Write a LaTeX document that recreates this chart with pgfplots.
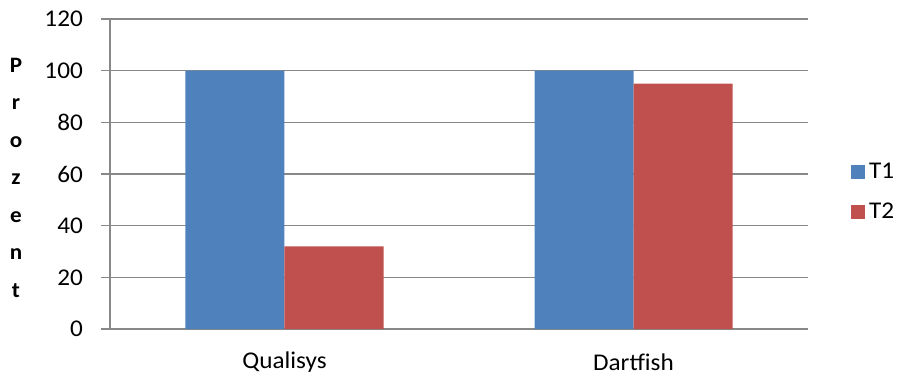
\documentclass[border=0pt]{standalone}
\usepackage{fontspec}
\setmainfont{Carlito}[FakeStretch=1.05]
\usepackage{pgfplots}
\pgfplotsset{compat=1.18}
\definecolor{tone}{HTML}{4F81BD}
\definecolor{ttwo}{HTML}{C0504D}
\definecolor{axgray}{HTML}{888888}
\begin{document}
\begin{tikzpicture}
\begin{axis}[
  name=ax,
  scale only axis,
  width=698pt, height=310pt,
  xmin=-0.5, xmax=1.5,
  ymin=0, ymax=120,
  ytick={0,20,...,120},
  xtick={0,1},
  xticklabels={Qualisys,Dartfish},
  minor xtick={-0.5,0.5,1.5},
  axis x line*=bottom,
  axis y line*=left,
  axis line style={axgray, line width=1.2pt},
  every tick/.style={axgray, line width=1.2pt},
  tick align=outside,
  major tick length=9pt,
  minor tick length=8pt,
  xtick style={draw=none},
  ymajorgrids,
  grid style={axgray, line width=1.2pt},
  /pgf/number format/assume math mode=true,
  tick label style={font=\fontsize{24}{28}\selectfont},
  yticklabel style={anchor=east, inner sep=0pt, xshift=-18pt},
  xticklabel style={anchor=center, inner sep=0pt, yshift=-24pt},
  ybar=0pt,
  bar width=99pt,
  legend style={at={(1,0.442)}, anchor=west, xshift=43pt, draw=none, fill=none,
    inner sep=0pt, row sep=19pt, font=\fontsize{24}{28}\selectfont,
    /tikz/every even column/.append style={column sep=0pt}},
  legend cell align=left,
  legend image code/.code={\fill[#1] (0pt,-7pt) rectangle (14pt,7pt);},
]
\addplot[fill=tone, draw=none] coordinates {(0,100) (1,100)};
\addlegendentry{\hspace{2pt}T1}
\addplot[fill=ttwo, draw=none] coordinates {(0,32) (1,95)};
\addlegendentry{\hspace{2pt}T2}
\end{axis}
\node[font=\bfseries\fontsize{22}{37.5}\selectfont, align=center, inner sep=0pt]
  at ([xshift=-94pt,yshift=151.5pt]ax.south west) {P\\r\\o\\z\\e\\n\\t};
\pgfresetboundingbox
\path ([xshift=-110pt,yshift=-49pt]ax.south west) rectangle ++(900pt,378pt);
\end{tikzpicture}
\end{document}
